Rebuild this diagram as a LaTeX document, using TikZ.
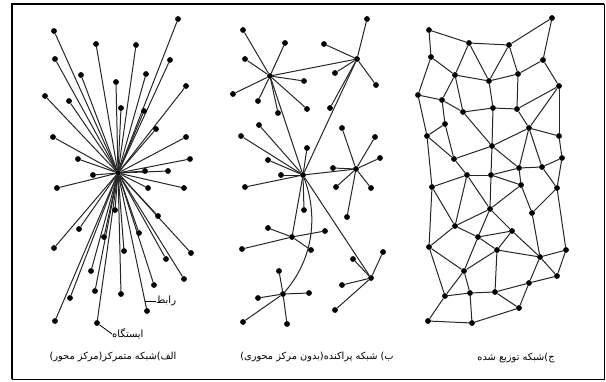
\documentclass[tikz,border=0pt]{standalone}
\usepackage{fontspec}
\newfontfamily\farsi[Script=Arabic]{DejaVu Sans}
\TeXXeTstate=1
\usetikzlibrary{backgrounds}

\begin{document}
\begin{tikzpicture}[x=1pt,y=-1pt,
    dot/.style={circle,fill=black,inner sep=0pt,minimum size=5.8pt},
    link/.style={draw=black!85,line width=1pt},
    caption/.style={font=\farsi\fontsize{9.8}{11}\selectfont,inner sep=0pt},
    tag/.style={font=\farsi\fontsize{10}{11}\selectfont,inner sep=0pt}]
    \useasboundingbox (0,0) rectangle (606,381);
    % frame
    \draw[line width=0.8pt] (12,4) rectangle (604,379);
    \draw[line width=2pt] (12,379) -- (12,4) -- (604,4);

    % (a) centralized
    \node[dot] (hubA) at (118,173) {};
    \foreach \x/\y [count=\i] in {54/31,96/44,136/45,178/19,55/59,170/60,81/75,116/82,
        146/74,186/86,45/96,69/101,121/108,144/111,156/129,53/137,186/137,78/159,
        190/159,145/171,168/171,93/175,57/188,148/188,184/188,115/210,158/216,79/229,
        139/233,104/237,54/248,124/251,166/259,191/253,91/271,184/279,154/285,95/291,
        70/298,121/294,147/311,55/321,97/323}
        \node[dot] (a\i) at (\x,\y) {};
    \begin{scope}[on background layer]
        \foreach \i in {1,...,43}
            \draw[link] (hubA) -- (a\i);
    \end{scope}
    \coordinate (rabetEnd) at (145,301);
    \node[tag,anchor=west] (rabet) at (156,301) {\beginR رابط\endR};
    \draw[line width=0.8pt] (rabet.west) -- (rabetEnd);
    \node[tag,anchor=west] (istgah) at (112,334) {\beginR ایستگاه\endR};
    \draw[line width=0.8pt] (a43) -- (istgah.west);
    \node[caption] (capA) at (113,357) {\beginR الف)شبکه متمرکز(مرکز محور)\endR};

    % (b) decentralized
    \foreach \n/\x/\y in {1/270/76,2/357/59,3/303/175,4/356/169,5/292/237,6/371/278,7/283/294}
        \node[dot] (hb\n) at (\x,\y) {};
    \foreach \h/\x/\y [count=\i] in {1/243/30,1/285/43,1/245/59,1/304/81,1/233/94,1/258/101,
        1/278/113,1/307/109,2/367/19,2/324/44,2/335/73,2/376/85,2/330/108,
        3/259/125,3/241/136,3/307/148,3/268/160,3/281/175,3/245/187,3/304/210,
        4/342/128,4/375/137,4/380/158,4/333/168,4/336/187,4/371/188,4/347/217,
        5/268/228,5/325/231,5/242/249,5/311/250,6/353/259,6/383/252,6/342/285,6/335/310,
        7/279/271,7/258/298,7/309/293,7/243/322,7/287/324}
    {
        \node[dot] (b\i) at (\x,\y) {};
        \begin{scope}[on background layer]
            \draw[link] (hb\h) -- (b\i);
        \end{scope}
    }
    \begin{scope}[on background layer]
        \foreach \p/\q in {1/2,1/3,2/3,3/4,3/5,3/6}
            \draw[link] (hb\p) -- (hb\q);
        \draw[link] (hb3) .. controls (318,215) and (314,258) .. (hb7);
    \end{scope}
    \node[caption] (capB) at (317,357) {\beginR ب) شبکه پراکنده(بدون مرکز محوری)\endR};

    % (c) distributed
    \foreach \x/\y [count=\i] in {429/30,469/43,509/45,552/18,431/57,543/60,455/75,489/81,
        518/74,559/86,418/95,442/100,463/112,493/108,517/109,445/124,529/128,427/136,
        559/136,492/146,562/158,454/159,519/168,542/167,467/175,491/175,432/187,521/185,
        557/188,490/209,532/213,455/226,512/231,478/237,429/247,497/250,566/250,540/257,
        464/271,557/276,529/283,445/296,470/293,495/292,519/308,428/321,472/323}
        \node[dot] (c\i) at (\x,\y) {};
    \begin{scope}[on background layer]
        \foreach \p/\q in {1/2,1/5,2/3,3/4,4/6,2/7,2/8,3/8,3/9,5/7,5/11,7/8,8/9,6/9,6/10,
            7/12,7/13,8/14,9/15,10/15,10/17,10/19,11/12,12/13,12/16,11/18,16/18,16/22,
            13/14,14/15,13/20,14/20,15/17,17/19,19/21,17/20,20/22,17/23,17/24,20/23,
            18/22,18/27,22/25,25/27,25/26,20/26,26/23,23/24,24/21,26/28,23/28,24/29,21/29,
            26/30,25/30,25/32,27/32,27/35,28/30,28/31,29/31,29/37,30/32,30/34,30/33,
            31/38,32/34,32/35,33/34,33/36,34/36,33/38,36/38,37/38,
            35/39,35/42,34/39,36/39,36/44,38/40,37/40,38/41,40/41,41/45,41/44,44/45,
            39/42,39/43,42/43,43/44,42/46,43/47,46/47,47/45}
            \draw[link] (c\p) -- (c\q);
    \end{scope}
    \node[caption] (capC) at (516,358) {\beginR ج)شبکه توزیع شده\endR};
\end{tikzpicture}
\end{document}
